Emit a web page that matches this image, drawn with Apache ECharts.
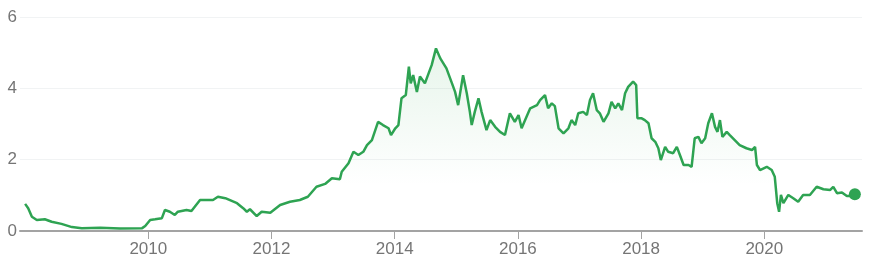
<!DOCTYPE html>
<html>
<head>
<meta charset="utf-8">
<script src="https://cdn.jsdelivr.net/npm/echarts@6/dist/echarts.min.js"></script>
<style>
html,body{margin:0;padding:0;background:#fff;}
#chart{width:873px;height:263px;}
</style>
</head>
<body>
<div id="chart"></div>
<script>
// Decimal years and prices
const years = [
 2008.00,2008.05,2008.11,2008.19,2008.32,2008.43,2008.59,2008.76,2008.92,2009.22,2009.54,2009.90,2009.95,
 2010.03,2010.11,2010.22,2010.27,2010.35,2010.43,2010.48,2010.62,2010.70,2010.84,2011.05,2011.13,2011.25,
 2011.44,2011.54,2011.60,2011.65,2011.76,2011.84,2011.98,2012.14,2012.30,2012.46,2012.59,2012.62,2012.73,
 2012.87,2012.98,2013.11,2013.14,2013.25,2013.33,2013.41,2013.49,2013.55,2013.63,2013.66,2013.73,2013.81,
 2013.90,2013.94,2014.01,2014.06,2014.11,2014.18,2014.23,2014.26,2014.30,2014.36,2014.41,2014.49,2014.55,
 2014.60,2014.67,2014.74,2014.79,2014.84,2014.93,2014.98,2015.03,2015.11,2015.17,2015.22,2015.25,2015.30,
 2015.36,2015.41,2015.49,2015.55,2015.63,2015.71,2015.79,2015.87,2015.95,2016.01,2016.06,2016.14,2016.20,
 2016.31,2016.36,2016.44,2016.49,2016.55,2016.60,2016.66,2016.74,2016.82,2016.87,2016.93,2016.98,2017.06,
 2017.12,2017.17,2017.22,2017.28,2017.33,2017.39,2017.47,2017.52,2017.58,2017.63,2017.69,2017.74,2017.79,
 2017.87,2017.92,2017.94,2018.01,2018.06,2018.12,2018.17,2018.23,2018.28,2018.32,2018.39,2018.44,2018.52,
 2018.58,2018.63,2018.69,2018.77,2018.82,2018.87,2018.93,2018.98,2019.04,2019.09,2019.15,2019.20,2019.24,
 2019.28,2019.32,2019.39,2019.44,2019.52,2019.60,2019.71,2019.80,2019.85,2019.88,2019.93,2020.04,2020.12,
 2020.17,2020.21,2020.24,2020.27,2020.31,2020.39,2020.47,2020.55,2020.63,2020.74,2020.85,2020.96,2021.07,
 2021.12,2021.18,2021.26,2021.34,2021.42,2021.47
];
const prices = [
 0.76,0.64,0.40,0.31,0.33,0.26,0.20,0.11,0.08,0.09,0.07,0.08,0.14,
 0.31,0.33,0.36,0.59,0.54,0.45,0.54,0.59,0.56,0.87,0.87,0.96,0.92,
 0.78,0.64,0.54,0.61,0.42,0.54,0.51,0.73,0.82,0.87,0.96,1.01,1.24,
 1.32,1.48,1.45,1.66,1.90,2.22,2.13,2.22,2.41,2.55,2.55,3.06,2.97,
 2.88,2.69,2.88,2.97,3.72,3.81,4.61,4.14,4.37,3.90,4.33,4.14,4.42,
 4.65,5.12,4.84,4.70,4.56,4.14,3.90,3.53,4.37,3.86,3.34,2.97,3.34,
 3.72,3.34,2.83,3.11,2.92,2.78,2.69,3.30,3.06,3.25,2.88,3.20,3.44,
 3.53,3.67,3.81,3.44,3.58,3.50,2.88,2.74,2.88,3.11,2.97,3.30,3.34,
 3.25,3.67,3.86,3.39,3.30,3.06,3.30,3.62,3.44,3.58,3.39,3.86,4.04,
 4.19,4.09,3.16,3.16,3.11,3.02,2.60,2.50,2.32,1.99,2.36,2.22,2.18,
 2.36,2.13,1.85,1.85,1.80,2.60,2.64,2.46,2.60,3.02,3.30,2.92,2.78,
 3.11,2.64,2.78,2.69,2.55,2.41,2.32,2.27,2.36,1.85,1.71,1.80,1.71,
 1.52,0.78,0.54,1.01,0.78,1.01,0.92,0.82,1.01,1.01,1.24,1.17,1.15,
 1.24,1.06,1.08,0.98,0.98,1.03
];
const xTickYears = [2010, 2012, 2014, 2016, 2018, 2020];
const yTicks = [0, 2, 4, 6];

const lineData = years.map((y, i) => [y, prices[i]]);
const lastPoint = [[years[years.length - 1], prices[prices.length - 1]]];

const chart = echarts.init(document.getElementById('chart'), null, {renderer: 'canvas'});
chart.setOption({
  animation: false,
  backgroundColor: '#ffffff',
  grid: {left: 20, right: 11, top: 17, bottom: 32, containLabel: false},
  xAxis: {
    type: 'value',
    min: 2007.917,
    max: 2021.586,
    axisLine: {show: true, lineStyle: {color: '#a3a3a3', width: 2}},
    axisTick: {show: true, customValues: xTickYears, length: 8, lineStyle: {color: '#a3a3a3', width: 1}},
    axisLabel: {
      customValues: xTickYears,
      formatter: v => String(Math.round(v)),
      color: '#757575',
      fontFamily: 'Liberation Sans, Arial, sans-serif',
      fontSize: 17,
      margin: 10
    },
    splitLine: {show: false}
  },
  yAxis: {
    type: 'value',
    min: 0,
    max: 6,
    interval: 2,
    axisLine: {show: false},
    axisTick: {show: false},
    axisLabel: {
      customValues: yTicks,
      formatter: v => String(v),
      color: '#757575',
      fontFamily: 'Liberation Sans, Arial, sans-serif',
      fontSize: 17,
      margin: 3
    },
    splitLine: {show: true, lineStyle: {color: '#f1f3f4', width: 1}}
  },
  series: [
    {
      type: 'line',
      data: lineData,
      showSymbol: false,
      symbol: 'none',
      lineStyle: {color: '#2ea352', width: 2.5},
      areaStyle: {
        color: new echarts.graphic.LinearGradient(0, 0, 0, 1, [
          {offset: 0, color: 'rgba(52,168,83,0.17)'},
          {offset: 0.75, color: 'rgba(52,168,83,0.0)'},
          {offset: 1, color: 'rgba(52,168,83,0)'}
        ])
      },
      z: 2
    },
    {
      type: 'scatter',
      data: lastPoint,
      symbol: 'circle',
      symbolSize: 12,
      itemStyle: {color: '#2ea352', opacity: 1},
      z: 3
    }
  ]
});
</script>
</body>
</html>
